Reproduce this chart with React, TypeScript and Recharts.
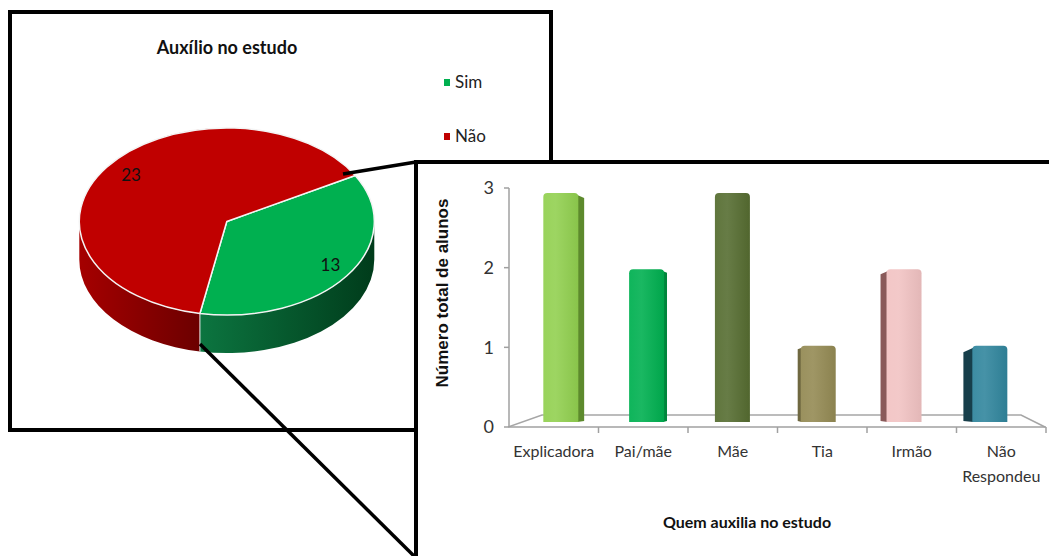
import React from 'react';
import { PieChart, Pie, Cell, Legend, BarChart, Bar, XAxis, YAxis } from 'recharts';

// Gráfico circular: auxílio no estudo
const pieNames = ['Sim', 'Não'];
const pieValues = [13, 23];
const pieColors = ['#00b050', '#c00000'];
const pieSideColors = [
  ['#0c7540', '#003c1b'],
  ['#a50000', '#6c0000'],
];

// Gráfico de barras: quem auxilia no estudo
const helpers = ['Explicadora', 'Pai/mãe', 'Mãe', 'Tia', 'Irmão', 'Não Respondeu'];
const helperCounts = [3, 2, 3, 1, 2, 1];
const yTicks = [0, 1, 2, 3];
const barColors = ['#92d050', '#00b050', '#566d31', '#948a54', '#f2c3c3', '#31869d'];
const barSideColors = ['#5d8a2d', '#00863c', '#3b4c20', '#6f6840', '#8a5a5a', '#173f4b'];

const pieData = pieNames.map((name, i) => ({ name, value: pieValues[i] }));
const barData = helpers.map((name, i) => ({ name, value: helperCounts[i] }));

const FONT = "Lato, 'DejaVu Sans Condensed', 'Noto Sans', sans-serif";
const RAD = Math.PI / 180;
const TILT = 0.634;
const DEPTH = 38;

function shade(hex: string, amt: number) {
  const n = parseInt(hex.slice(1), 16);
  const ch = [(n >> 16) & 255, (n >> 8) & 255, n & 255].map(c =>
    Math.round(amt >= 0 ? c + (255 - c) * amt : c * (1 + amt))
  );
  return '#' + ch.map(c => c.toString(16).padStart(2, '0')).join('');
}

function PieSlice3D(props: any) {
  const { cx, cy, outerRadius, startAngle, endAngle, index, fill } = props;
  const rx = outerRadius;
  const ry = outerRadius * TILT;
  const pt = (a: number, dy = 0) => `${cx + rx * Math.cos(a * RAD)},${cy - ry * Math.sin(a * RAD) + dy}`;
  const lo = Math.min(startAngle, endAngle);
  const hi = Math.max(startAngle, endAngle);

  // parte lateral visível (metade de baixo da elipse)
  const sides: number[][] = [];
  for (let k = -2; k <= 2; k++) {
    const a = Math.max(lo, k * 360 - 180);
    const b = Math.min(hi, k * 360);
    if (b - a > 0.01) sides.push([a, b]);
  }
  const sweep = endAngle < startAngle ? 1 : 0;
  const large = Math.abs(endAngle - startAngle) > 180 ? 1 : 0;
  const gid = `pieSide${index}`;
  const sideCols = pieSideColors[index % pieSideColors.length];
  const startSin = Math.sin(startAngle * RAD);

  return (
    <g>
      <defs>
        <linearGradient id={gid} x1="0" y1="0" x2="1" y2="0">
          <stop offset="0%" stopColor={sideCols[0]} />
          <stop offset="100%" stopColor={sideCols[1]} />
        </linearGradient>
      </defs>
      {sides.map(([a, b], i) => (
        <path
          key={i}
          d={`M${pt(b)} A${rx},${ry} 0 0 1 ${pt(a)} L${pt(a, DEPTH)} A${rx},${ry} 0 0 0 ${pt(b, DEPTH)} Z`}
          fill={`url(#${gid})`}
        />
      ))}
      {startSin < 0 && (
        <path d={`M${pt(startAngle)} L${pt(startAngle, DEPTH)}`} stroke="#e8e8e8" strokeWidth={1} />
      )}
      <path
        d={`M${cx},${cy} L${pt(startAngle)} A${rx},${ry} 0 ${large} ${sweep} ${pt(endAngle)} Z`}
        fill={fill}
        stroke="#f4f4f4"
        strokeWidth={1.5}
        strokeLinejoin="round"
      />
    </g>
  );
}

function renderPieLabel(props: any) {
  const { cx, cy, midAngle, outerRadius, value } = props;
  const x = cx + 0.83 * outerRadius * Math.cos(midAngle * RAD) + 4;
  const y = cy - 0.83 * outerRadius * TILT * Math.sin(midAngle * RAD) - 2;
  return (
    <text x={x} y={y} textAnchor="middle" dominantBaseline="central" fill="#111" fontSize={17} fontFamily={FONT}>
      {value}
    </text>
  );
}

function PieLegend(props: any) {
  const items = [...(props.payload || [])].sort(
    (a: any, b: any) => pieNames.indexOf(a.value) - pieNames.indexOf(b.value)
  );
  return (
    <div style={{ fontFamily: FONT, fontSize: 17, color: '#222' }}>
      {items.map((it: any) => (
        <div key={it.value} style={{ height: 20, lineHeight: '20px', marginBottom: 34, display: 'flex', alignItems: 'center' }}>
          <span style={{ display: 'inline-block', width: 6, height: 7, background: it.color, marginRight: 5 }} />
          {it.value}
        </div>
      ))}
    </div>
  );
}

// barras com efeito 3D simples
const VANISH_X = 312.5;
const PERSPECTIVE = 0.0413;

function Bar3D(props: any) {
  const { x, y, width, height, index } = props;
  if (!height) return null;
  const center = x + width / 2;
  const shift = -PERSPECTIVE * (center - VANISH_X);
  const left = x + shift;
  const right = left + width;
  const base = y + height - 5;
  const top = base - height * 0.958;
  const r = 4;
  const color = barColors[index % barColors.length];
  const side = barSideColors[index % barSideColors.length];
  const sw = Math.abs(shift) * 0.8;
  const gid = `barGrad${index}`;
  const sidePts =
    shift >= 0
      ? `${right - 1},${top + 2} ${right + sw},${top + 2 + sw * 0.5} ${right + sw},${base - 1} ${right - 1},${base}`
      : `${left + 1},${top + 2} ${left - sw},${top + 2 + sw * 0.5} ${left - sw},${base - 1} ${left + 1},${base}`;
  return (
    <g>
      <defs>
        <linearGradient id={gid} x1="0" y1="0" x2="1" y2="0">
          <stop offset="0%" stopColor={shade(color, 0.06)} />
          <stop offset="35%" stopColor={shade(color, 0.1)} />
          <stop offset="100%" stopColor={shade(color, -0.06)} />
        </linearGradient>
      </defs>
      {sw > 0.8 && <polygon points={sidePts} fill={side} />}
      <path
        d={`M${left},${base} L${left},${top + r} Q${left},${top} ${left + r},${top} L${right - r},${top} Q${right},${top} ${right},${top + r} L${right},${base} Z`}
        fill={`url(#${gid})`}
      />
    </g>
  );
}

const BAND = 537 / 6;

function HelperTick(props: any) {
  const { x, y, payload } = props;
  const lines = String(payload.value).split(' ');
  return (
    <g>
      <line x1={x + BAND / 2} y1={y} x2={x + BAND / 2} y2={y + 6} stroke="#a0a0a0" strokeWidth={1.5} />
      <text x={x} y={y + 30} textAnchor="middle" fill="#333" fontSize={16} fontFamily={FONT}>
        {lines.map((l, i) => (
          <tspan key={i} x={x} dy={i === 0 ? 0 : 25}>
            {l}
          </tspan>
        ))}
      </text>
    </g>
  );
}

export default function App() {
  return (
    <div style={{ position: 'absolute', left: 0, top: 0, width: 1049, height: 556, background: '#fff', overflow: 'hidden' }}>
      {/* caixa do gráfico circular */}
      <div
        style={{
          position: 'absolute', left: 8, top: 10, width: 545, height: 422,
          border: '4px solid #000', boxSizing: 'border-box', background: '#fff',
        }}
      >
        <div
          style={{
            position: 'absolute', left: 65, top: 22, width: 300, textAlign: 'center',
            fontFamily: FONT, fontWeight: 'bold', fontSize: 18, color: '#111',
          }}
        >
          Auxílio no estudo
        </div>
        <PieChart width={537} height={414} margin={{ top: 0, right: 0, bottom: 0, left: 0 }}>
          <Pie
            data={pieData}
            dataKey="value"
            nameKey="name"
            cx={214.8}
            cy={207.5}
            outerRadius={147.5}
            startAngle={29.5}
            endAngle={-330.5}
            shape={PieSlice3D}
            label={renderPieLabel}
            labelLine={false}
            isAnimationActive={false}
          >
            {pieData.map((d, i) => (
              <Cell key={d.name} fill={pieColors[i]} />
            ))}
          </Pie>
          <Legend
            layout="vertical"
            align="right"
            verticalAlign="top"
            content={PieLegend}
            wrapperStyle={{ left: 432, top: 58, width: 80 }}
          />
        </PieChart>
      </div>

      {/* caixa do gráfico de barras */}
      <div
        style={{
          position: 'absolute', left: 414, top: 160, width: 640, height: 400,
          border: '4px solid #000', boxSizing: 'border-box', background: '#fff',
        }}
      >
        <svg width={632} height={392} style={{ position: 'absolute', left: 0, top: 0 }}>
          <polyline points="90,263 124,251 603,251 627,263" fill="none" stroke="#a6a6a6" strokeWidth={1.5} />
        </svg>
        <div style={{ position: 'absolute', left: 0, top: 0 }}>
          <BarChart width={632} height={392} data={barData} margin={{ top: 24, right: 4, left: 41, bottom: 99 }}>
            <XAxis
              dataKey="name"
              height={30}
              axisLine={{ stroke: '#a0a0a0', strokeWidth: 1.5 }}
              tickLine={false}
              tickSize={0}
              tickMargin={0}
              interval={0}
              tick={HelperTick}
            />
            <YAxis
              width={50}
              domain={[0, 3]}
              ticks={yTicks}
              axisLine={{ stroke: '#a0a0a0', strokeWidth: 1.5 }}
              tickLine={{ stroke: '#a0a0a0', strokeWidth: 1.5 }}
              tickSize={5}
              tickMargin={10}
              tick={{ fill: '#333', fontSize: 18, fontFamily: FONT }}
            />
            <Bar dataKey="value" barSize={35} shape={Bar3D} isAnimationActive={false} />
          </BarChart>
        </div>
        <div
          style={{
            position: 'absolute', left: -95, top: 119, width: 240, height: 20, lineHeight: '20px',
            textAlign: 'center', transform: 'rotate(-90deg)',
            fontFamily: "'Liberation Sans', Arial, sans-serif", fontWeight: 'bold', fontSize: 17, color: '#111',
          }}
        >
          Número total de alunos
        </div>
        <div
          style={{
            position: 'absolute', left: 179, top: 348, width: 300, height: 20, lineHeight: '20px',
            textAlign: 'center', fontFamily: FONT, fontWeight: 'bold', fontSize: 16, color: '#111',
          }}
        >
          Quem auxilia no estudo
        </div>
      </div>

      {/* linhas de ligação */}
      <svg width={1049} height={556} style={{ position: 'absolute', left: 0, top: 0, pointerEvents: 'none' }}>
        <line x1={343} y1={174} x2={416} y2={162} stroke="#000" strokeWidth={3.5} />
        <line x1={200} y1={344} x2={414} y2={556} stroke="#000" strokeWidth={3.5} />
      </svg>
    </div>
  );
}
